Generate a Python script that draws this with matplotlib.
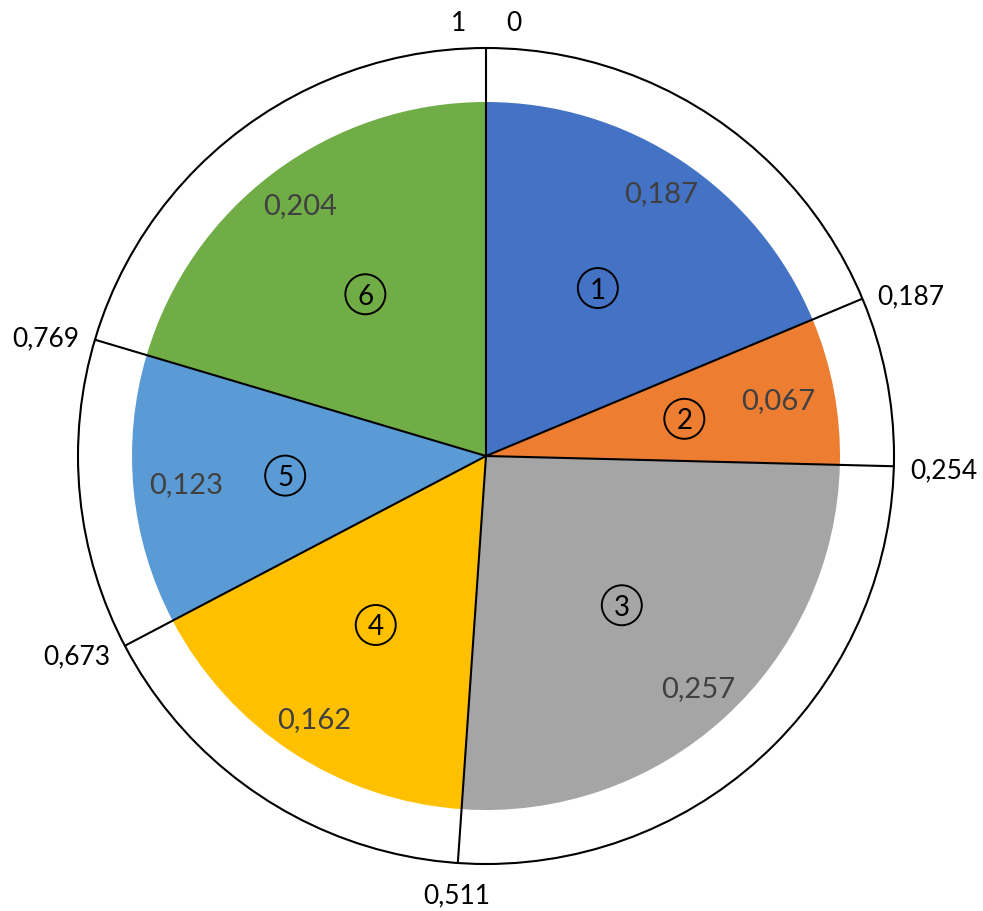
import numpy as np
import matplotlib
matplotlib.use('Agg')
import matplotlib.pyplot as plt
from matplotlib.patches import Circle

# shares of each sector, clockwise from the top
shares = [0.187, 0.067, 0.257, 0.162, 0.123, 0.204]
share_labels = ['0,187', '0,067', '0,257', '0,162', '0,123', '0,204']
sector_ids = ['1', '2', '3', '4', '5', '6']
edge_labels = ['0,187', '0,254', '0,511', '0,673', '0,769']
colors = ['#4472C4', '#ED7D31', '#A5A5A5', '#FFC000', '#5B9BD5', '#70AD47']

plt.rcParams['font.family'] = ['Lato', 'DejaVu Sans']

fig = plt.figure(figsize=(9.83, 9.11), dpi=100)
ax = fig.add_axes([0, 0, 1, 1])

cx, cy = 486, 455
r_pie, r_out = 354, 408

ax.pie(shares, colors=colors, startangle=90, counterclock=False,
       radius=r_pie, center=(cx, cy), wedgeprops=dict(linewidth=0))
ax.set_xlim(0, 983)
ax.set_ylim(0, 911)
ax.set_aspect('equal')
ax.axis('off')


def polar(frac, r):
    a = 2 * np.pi * frac
    return cx + r * np.sin(a), cy + r * np.cos(a)


edges = np.concatenate([[0], np.cumsum(shares)])

# outer ring and sector borders
ax.add_patch(Circle((cx, cy), r_out, fill=False, ec='black', lw=1.5, zorder=3))
for f in edges[:-1]:
    x, y = polar(f, r_out)
    ax.plot([cx, x], [cy, y], color='black', lw=1.5, zorder=3, solid_capstyle='butt')

# values and circled numbers inside the sectors
mids = edges[:-1] + np.array(shares) / 2
val_r = [0.89, 0.84, 0.89, 0.89, 0.85, 0.88]
for m, lab, sid, vr in zip(mids, share_labels, sector_ids, val_r):
    x, y = polar(m, vr * r_pie)
    ax.text(x, y, lab, ha='center', va='center', fontsize=21, color='#404040', zorder=4)
    x, y = polar(m, 0.57 * r_pie)
    ax.add_patch(Circle((x, y), 20, fill=False, ec='black', lw=1.4, zorder=4))
    ax.text(x, y, sid, ha='center', va='center_baseline', fontsize=20, color='black', zorder=4)

# cumulative values at the sector borders
for f, lab in zip(edges[1:-1], edge_labels):
    a = 2 * np.pi * f
    s, c = np.sin(a), np.cos(a)
    x, y = polar(f, r_out + 16)
    ha = 'left' if s > 0.3 else ('right' if s < -0.3 else 'center')
    va = 'bottom' if c > 0.5 else ('top' if c < -0.5 else 'center')
    ax.text(x, y - 4, lab, ha=ha, va=va, fontsize=19, color='black')

ax.text(cx - 20, cy + r_out + 12, '1', ha='right', va='bottom', fontsize=19, color='black')
ax.text(cx + 20, cy + r_out + 12, '0', ha='left', va='bottom', fontsize=19, color='black')

fig.savefig('out.png', dpi=100)
